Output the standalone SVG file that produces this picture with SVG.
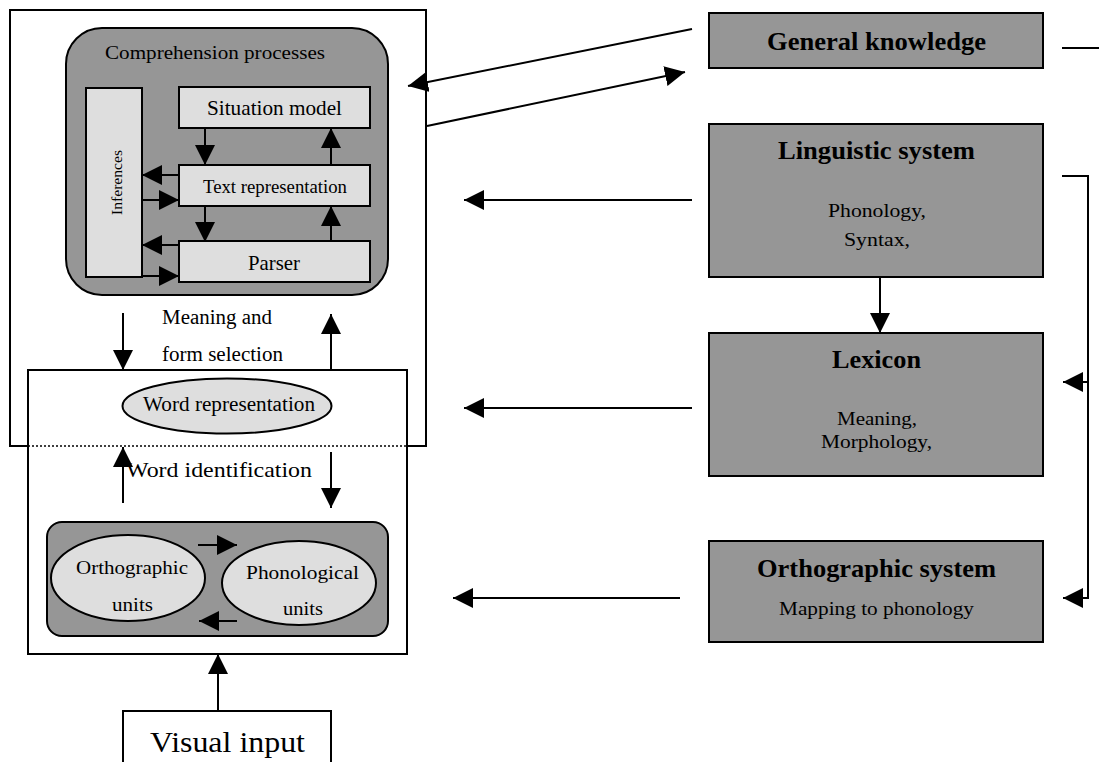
<svg xmlns="http://www.w3.org/2000/svg" width="1099" height="762" viewBox="0 0 1099 762">
<defs>
<style>
text{font-family:"Liberation Serif","Times New Roman",serif;fill:#000}
.b{font-weight:bold}
.m{text-anchor:middle}
.dark{fill:#969696;stroke:#000;stroke-width:2}
.light{fill:#dedede;stroke:#000;stroke-width:2}
.frame{fill:#fff;stroke:#000;stroke-width:2}
.c line,.c path{stroke:#000;stroke-width:2;fill:none}
.a{marker-end:url(#ah)}
</style>
<marker id="ah" markerUnits="userSpaceOnUse" markerWidth="20" markerHeight="20" viewBox="0 0 20 20" refX="20" refY="10" orient="auto">
<path d="M0,0 L20,10 L0,20 z" fill="#000"/>
</marker>
</defs>
<rect width="1099" height="762" fill="#fff"/>

<g id="comprehension-frame">
<path d="M28,446 H10 V10 H426 V446 H407" fill="none" stroke="#000" stroke-width="2"/>
</g>

<g id="comprehension-processes">
<rect class="dark" x="66" y="28" width="322" height="267" rx="36"/>
<text x="215" y="59" class="m" font-size="19.5" textLength="220" lengthAdjust="spacingAndGlyphs">Comprehension processes</text>
</g>

<g id="inferences">
<rect class="light" x="86" y="88" width="56" height="189"/>
<text transform="translate(121.5,182.5) rotate(-90)" class="m" font-size="15.5" textLength="65" lengthAdjust="spacingAndGlyphs">Inferences</text>
</g>

<g id="situation-model">
<rect class="light" x="179" y="87" width="191" height="41"/>
<text x="274.5" y="115" class="m" font-size="21" textLength="135" lengthAdjust="spacingAndGlyphs">Situation model</text>
</g>

<g id="text-representation">
<rect class="light" x="179" y="165" width="191" height="41"/>
<text x="275" y="193" class="m" font-size="19" textLength="144" lengthAdjust="spacingAndGlyphs">Text representation</text>
</g>

<g id="parser">
<rect class="light" x="179" y="241" width="191" height="41"/>
<text x="274" y="270" class="m" font-size="21" textLength="52" lengthAdjust="spacingAndGlyphs">Parser</text>
</g>

<g id="meaning-form-label">
<text x="162" y="324" font-size="20" textLength="110" lengthAdjust="spacingAndGlyphs">Meaning and</text>
<text x="162" y="361" font-size="20" textLength="121" lengthAdjust="spacingAndGlyphs">form selection</text>
</g>

<g id="word-box">
<rect class="frame" x="28" y="370" width="379" height="284"/>
<line x1="28" y1="446" x2="407" y2="446" stroke="#000" stroke-width="1.5" stroke-dasharray="2,2"/>
</g>

<g id="word-representation">
<ellipse class="light" cx="227" cy="406" rx="104.5" ry="27.5"/>
<text x="229" y="411" class="m" font-size="20.5" textLength="172" lengthAdjust="spacingAndGlyphs">Word representation</text>
</g>

<g id="word-identification-label">
<text x="219" y="477" class="m" font-size="21" textLength="186" lengthAdjust="spacingAndGlyphs">Word identification</text>
</g>

<g id="sublexical-units">
<rect class="dark" x="47" y="522" width="341" height="114" rx="15"/>
</g>

<g id="orthographic-units">
<ellipse class="light" cx="128" cy="578" rx="77" ry="43"/>
<text x="132" y="574" class="m" font-size="19.5" textLength="112" lengthAdjust="spacingAndGlyphs">Orthographic</text>
<text x="132.5" y="611" class="m" font-size="19.5" textLength="41" lengthAdjust="spacingAndGlyphs">units</text>
</g>

<g id="phonological-units">
<ellipse class="light" cx="299" cy="583" rx="77" ry="42"/>
<text x="302.5" y="579" class="m" font-size="19.5" textLength="113" lengthAdjust="spacingAndGlyphs">Phonological</text>
<text x="303" y="615" class="m" font-size="19.5" textLength="40" lengthAdjust="spacingAndGlyphs">units</text>
</g>

<g id="visual-input">
<path d="M123,765 V711 H331 V765" fill="#fff" stroke="#000" stroke-width="2"/>
<text x="227.5" y="752" class="m" font-size="30" textLength="155" lengthAdjust="spacingAndGlyphs">Visual input</text>
</g>

<g id="general-knowledge">
<rect class="dark" x="709" y="13" width="334" height="55"/>
<text x="876.5" y="50" class="m b" font-size="25" textLength="219" lengthAdjust="spacingAndGlyphs">General knowledge</text>
</g>

<g id="linguistic-system">
<rect class="dark" x="709" y="124" width="334" height="153"/>
<text x="876.5" y="159" class="m b" font-size="25" textLength="197" lengthAdjust="spacingAndGlyphs">Linguistic system</text>
<text x="877" y="217" class="m" font-size="19.5" textLength="98" lengthAdjust="spacingAndGlyphs">Phonology,</text>
<text x="877" y="246" class="m" font-size="19.5" textLength="66" lengthAdjust="spacingAndGlyphs">Syntax,</text>
</g>

<g id="lexicon">
<rect class="dark" x="709" y="333" width="334" height="143"/>
<text x="876.5" y="368" class="m b" font-size="25" textLength="89" lengthAdjust="spacingAndGlyphs">Lexicon</text>
<text x="877" y="425" class="m" font-size="19.5" textLength="80" lengthAdjust="spacingAndGlyphs">Meaning,</text>
<text x="876.5" y="448" class="m" font-size="19.5" textLength="111" lengthAdjust="spacingAndGlyphs">Morphology,</text>
</g>

<g id="orthographic-system">
<rect class="dark" x="709" y="541" width="334" height="101"/>
<text x="876.5" y="577" class="m b" font-size="25" textLength="239" lengthAdjust="spacingAndGlyphs">Orthographic system</text>
<text x="876.5" y="615" class="m" font-size="19.5" textLength="195" lengthAdjust="spacingAndGlyphs">Mapping to phonology</text>
</g>

<g id="connectors" class="c">
<line class="a" x1="205" y1="128" x2="205" y2="165"/>
<line class="a" x1="331" y1="165" x2="331" y2="128"/>
<line class="a" x1="205" y1="206" x2="205" y2="242"/>
<line class="a" x1="331" y1="241" x2="331" y2="206"/>
<line class="a" x1="179" y1="175" x2="142" y2="175"/>
<line class="a" x1="142" y1="200" x2="179" y2="200"/>
<line class="a" x1="179" y1="245" x2="142" y2="245"/>
<line class="a" x1="142" y1="276" x2="179" y2="276"/>
<line class="a" x1="123" y1="313" x2="123" y2="370"/>
<line class="a" x1="331" y1="370" x2="331" y2="314"/>
<line class="a" x1="123" y1="503" x2="123" y2="447"/>
<line class="a" x1="331" y1="452" x2="331" y2="508"/>
<line class="a" x1="198" y1="545" x2="237" y2="545"/>
<line class="a" x1="237" y1="621" x2="199" y2="621"/>
<line class="a" x1="218" y1="711" x2="218" y2="654"/>
<line class="a" x1="692" y1="29" x2="408" y2="86"/>
<line class="a" x1="427" y1="126" x2="685" y2="72"/>
<line class="a" x1="692" y1="200" x2="464" y2="200"/>
<line class="a" x1="692" y1="408" x2="464" y2="408"/>
<line class="a" x1="680" y1="598" x2="453" y2="598"/>
<line class="a" x1="880" y1="277" x2="880" y2="333"/>
<line x1="1062" y1="48" x2="1099" y2="48"/>
<path class="a" d="M1062,176 H1088 V598 H1063"/>
<line class="a" x1="1088" y1="382" x2="1063" y2="382"/>
</g>
</svg>
